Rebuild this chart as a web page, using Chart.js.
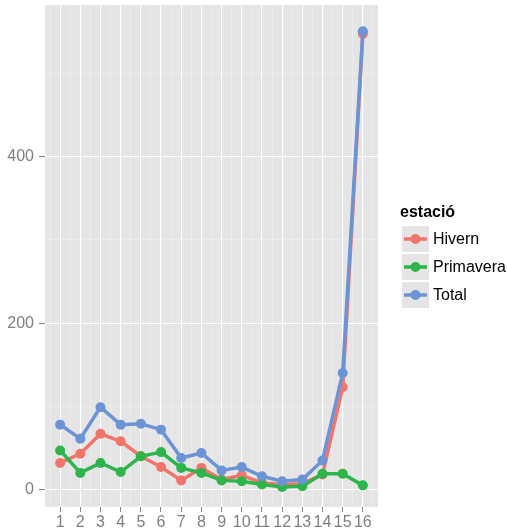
<!DOCTYPE html>
<html>
<head>
<meta charset="utf-8">
<script src="https://cdn.jsdelivr.net/npm/chart.js@4"></script>
<style>
  html,body{margin:0;padding:0;background:#fff}
  #wrap{width:507px;height:532px;position:relative}
</style>
</head>
<body>
<div id="wrap"><canvas id="myChart"></canvas></div>
<script>
// data
var mesos = [1,2,3,4,5,6,7,8,9,10,11,12,13,14,15,16]
var hivern = [32,43,67,58,40,27,11,26,12,17,8,6,7,18,123,548]
var primavera = [47,20,32,21,40,45,26,20,11,10,6,3,4,19,19,5]
var total = [78,61,99,78,79,72,38,44,23,27,16,10,12,35,140,551]
var yMajor = [0,200,400]
var yMinor = [100,300,500]
var xMinor = [0.5,1.5,2.5,3.5,4.5,5.5,6.5,7.5,8.5,9.5,10.5,11.5,12.5,13.5,14.5,15.5,16.5]

var colors = {Hivern:'#f2756d', Primavera:'#2db44b', Total:'#6c94d4'}
var font = 'Liberation Sans, Helvetica, Arial, sans-serif'

function pts(arr){
    return arr.map(function(v,i){ return {x: mesos[i], y: v} })
}
function ds(label, arr, order){
    return {
        label: label,
        data: pts(arr),
        borderColor: colors[label],
        backgroundColor: colors[label],
        borderWidth: 3.5,
        pointRadius: 5,
        pointBorderWidth: 0,
        pointHoverRadius: 5,
        tension: 0,
        order: order
    }
}

//panel background
var panelBg = {
    id:'panelBg',
    beforeDraw:function(chart){
        var a = chart.chartArea, c = chart.ctx
        c.save()
        c.fillStyle = '#e5e5e5'
        c.fillRect(a.left, a.top, a.right-a.left, a.bottom-a.top)
        c.restore()
    }
}

//ggplot-like legend
var ggLegend = {
    id:'ggLegend',
    afterDraw:function(chart){
        var c = chart.ctx
        c.save()
        c.fillStyle = '#000'
        c.font = 'bold 16px ' + font
        c.textBaseline = 'middle'
        c.fillText('estació', 400, 213)
        var sets = chart.data.datasets
        sets.forEach(function(d, i){
            var top = 226 + i*28
            c.fillStyle = '#e5e5e5'
            c.fillRect(402, top, 27, 26)
            c.strokeStyle = d.borderColor
            c.lineWidth = 3.5
            c.beginPath()
            c.moveTo(404, top+13)
            c.lineTo(427, top+13)
            c.stroke()
            c.fillStyle = d.borderColor
            c.beginPath()
            c.arc(415.5, top+13, 5, 0, Math.PI*2)
            c.fill()
            c.fillStyle = '#000'
            c.font = '16px ' + font
            c.fillText(d.label, 433, top+13.5)
        })
        c.restore()
    }
}

var ctx = document.getElementById('myChart')

new Chart(ctx, {
    type: 'line',
    data: {
        datasets: [
            ds('Hivern', hivern, 2),
            ds('Primavera', primavera, 1),
            ds('Total', total, 0)
        ]
    },
    plugins: [panelBg, ggLegend],
    options: {
        responsive: true,
        maintainAspectRatio: false,
        animation: false,
        devicePixelRatio: 1,
        layout: { padding: { left: 0, right: 129, top: 5, bottom: 0 } },
        plugins: {
            legend: { display: false },
            tooltip: { enabled: false }
        },
        scales: {
            x: {
                type: 'linear',
                min: 0.25,
                max: 16.75,
                border: { display: false },
                afterBuildTicks: function(scale){
                    var t = mesos.concat(xMinor).sort(function(a,b){ return a-b })
                    scale.ticks = t.map(function(v){ return {value: v} })
                },
                afterFit: function(scale){
                    scale.height = 25
                    scale.paddingLeft = 0
                    scale.paddingRight = 0
                },
                grid: {
                    color: function(c){ return Number.isInteger(c.tick.value) ? '#ffffff' : '#f2f2f2' },
                    lineWidth: function(c){ return Number.isInteger(c.tick.value) ? 1.1 : 0.5 },
                    tickColor: function(c){ return Number.isInteger(c.tick.value) ? '#7f7f7f' : 'rgba(0,0,0,0)' },
                    tickWidth: 1,
                    tickLength: 5
                },
                ticks: {
                    autoSkip: false,
                    maxRotation: 0,
                    padding: 1,
                    color: '#7f7f7f',
                    font: { family: font, size: 16 },
                    callback: function(v){ return Number.isInteger(v) ? String(v) : '' }
                }
            },
            y: {
                min: -21,
                max: 582.5,
                border: { display: false },
                afterBuildTicks: function(scale){
                    var t = yMajor.concat(yMinor).sort(function(a,b){ return a-b })
                    scale.ticks = t.map(function(v){ return {value: v} })
                },
                afterFit: function(scale){
                    scale.width = 45
                    scale.paddingTop = 0
                    scale.paddingBottom = 0
                },
                grid: {
                    color: function(c){ return yMajor.indexOf(c.tick.value) >= 0 ? '#ffffff' : '#f2f2f2' },
                    lineWidth: function(c){ return yMajor.indexOf(c.tick.value) >= 0 ? 1.1 : 0.5 },
                    tickColor: function(c){ return yMajor.indexOf(c.tick.value) >= 0 ? '#7f7f7f' : 'rgba(0,0,0,0)' },
                    tickWidth: 1,
                    tickLength: 6
                },
                ticks: {
                    autoSkip: false,
                    padding: 5,
                    color: '#7f7f7f',
                    font: { family: font, size: 16 },
                    callback: function(v){ return yMajor.indexOf(v) >= 0 ? String(v) : '' }
                }
            }
        }
    }
})
</script>
</body>
</html>
